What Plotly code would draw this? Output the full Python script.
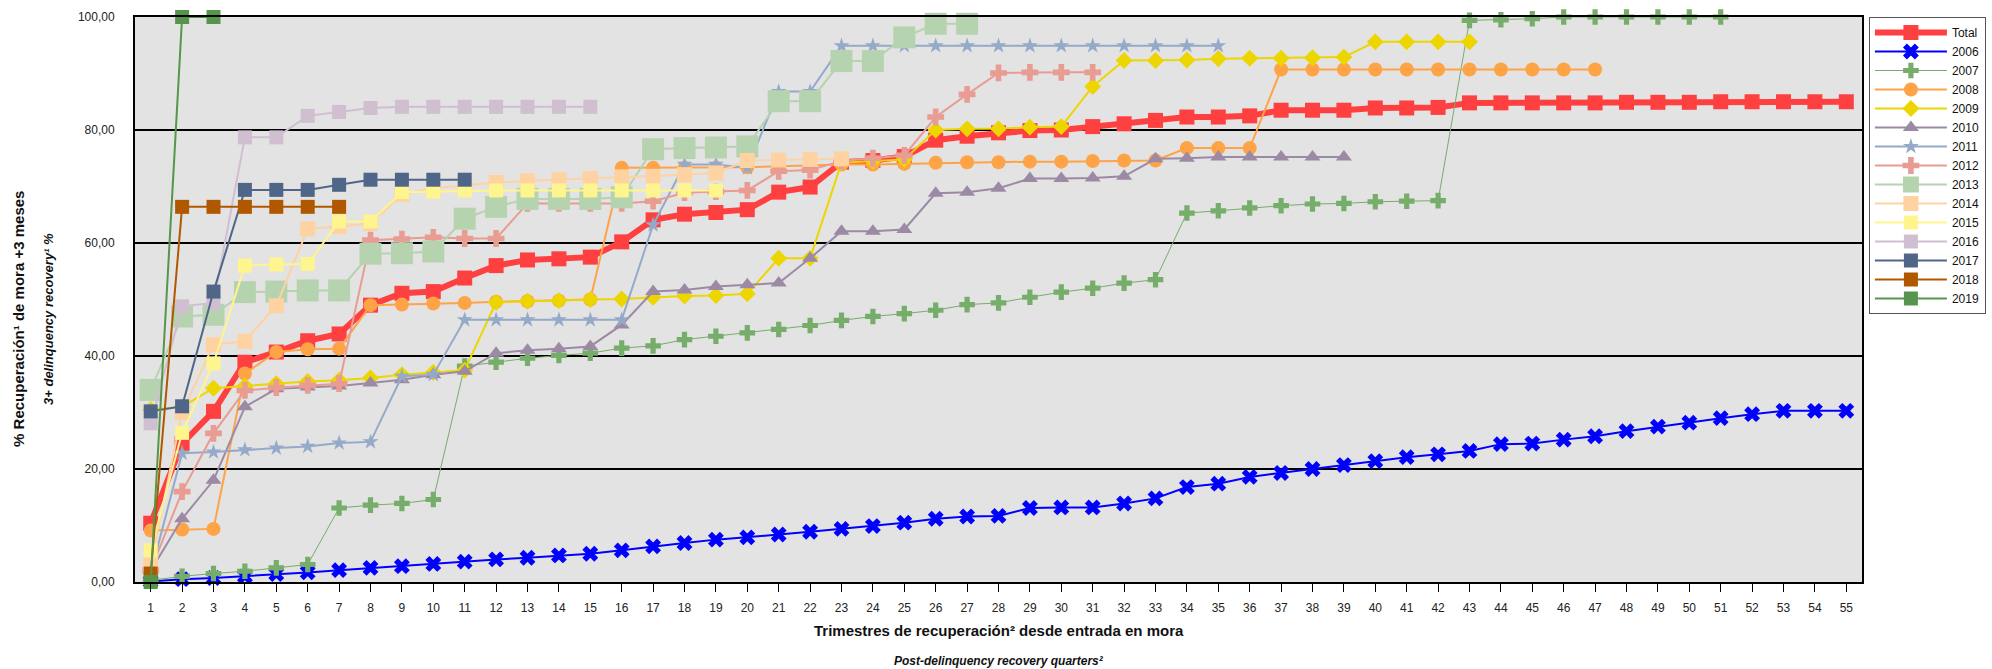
import plotly.graph_objects as go

quarters = list(range(1, 56))

total = [10.4, 24.5, 30.2, 38.9, 40.7, 42.7, 43.9, 49.0, 51.1, 51.4,
         53.8, 56.0, 57.0, 57.2, 57.5, 60.2, 64.1, 65.1, 65.4, 65.9,
         69.0, 69.9, 74.3, 74.6, 75.3, 78.2, 78.9, 79.5, 79.9, 80.0,
         80.6, 81.1, 81.7, 82.3, 82.3, 82.5, 83.5, 83.5, 83.5, 83.9,
         83.9, 84.0, 84.8, 84.8, 84.8, 84.8, 84.8, 84.9, 84.9, 84.9,
         85.0, 85.0, 85.0, 85.0, 85.0]
s2006 = [0.1, 0.5, 0.7, 1.0, 1.4, 1.7, 2.1, 2.5, 2.8, 3.2,
         3.6, 4.0, 4.3, 4.7, 5.0, 5.6, 6.3, 6.9, 7.5, 7.9,
         8.4, 8.9, 9.4, 9.9, 10.5, 11.2, 11.6, 11.7, 13.1, 13.2,
         13.2, 13.9, 14.8, 16.8, 17.4, 18.6, 19.3, 20.0, 20.7, 21.4,
         22.1, 22.6, 23.2, 24.4, 24.5, 25.2, 25.8, 26.7, 27.5, 28.2,
         29.0, 29.7, 30.3, 30.3, 30.3]
s2007 = [0.3, 1.0, 1.5, 1.9, 2.5, 3.1, 13.1, 13.6, 13.9, 14.6,
         38.2, 38.9, 39.6, 40.1, 40.5, 41.4, 41.8, 42.9, 43.5, 44.1,
         44.7, 45.4, 46.3, 47.0, 47.5, 48.1, 49.1, 49.4, 50.4, 51.3,
         52.0, 52.9, 53.5, 65.3, 65.7, 66.2, 66.6, 66.9, 67.0, 67.3,
         67.4, 67.5, 99.4, 99.5, 99.7, 100.0, 100.0, 100.0, 100.0, 100.0,
         100.0]
s2008 = [9.1, 9.3, 9.4, 36.9, 40.7, 41.2, 41.3, 49.0, 49.1, 49.3,
         49.4, 49.6, 49.7, 49.8, 50.0, 73.3, 73.3, 73.3, 73.3, 73.4,
         73.6, 73.8, 73.9, 73.9, 74.0, 74.2, 74.3, 74.3, 74.4, 74.4,
         74.5, 74.6, 74.6, 76.8, 76.8, 76.8, 90.7, 90.7, 90.7, 90.7,
         90.7, 90.7, 90.7, 90.7, 90.7, 90.7, 90.7]
s2009 = [30.5, 31.0, 34.3, 34.7, 35.1, 35.5, 35.7, 36.1, 36.7, 37.1,
         37.5, 49.5, 49.7, 49.8, 50.0, 50.1, 50.4, 50.6, 50.7, 51.0,
         57.3, 57.3, 74.2, 74.5, 74.8, 80.0, 80.2, 80.2, 80.5, 80.6,
         87.7, 92.3, 92.3, 92.4, 92.6, 92.7, 92.7, 92.8, 92.9, 95.6,
         95.6, 95.6, 95.6]
s2010 = [2.0, 11.2, 18.0, 31.0, 34.2, 34.5, 34.7, 35.2, 35.8, 36.7,
         37.3, 40.5, 41.0, 41.3, 41.7, 45.5, 51.4, 51.7, 52.3, 52.6,
         52.9, 57.3, 62.1, 62.1, 62.4, 68.8, 69.0, 69.7, 71.4, 71.4,
         71.5, 71.8, 74.9, 75.0, 75.2, 75.2, 75.2, 75.2, 75.2]
s2011 = [1.5, 22.8, 23.0, 23.4, 23.7, 24.0, 24.6, 24.8, 36.4, 36.7,
         46.4, 46.4, 46.4, 46.4, 46.4, 46.4, 63.2, 73.9, 73.9, 73.3,
         86.8, 86.8, 94.9, 94.9, 94.9, 94.9, 94.9, 94.9, 94.9, 94.9,
         94.9, 94.9, 94.9, 94.9, 94.9]
s2012 = [2.1, 16.0, 26.3, 33.9, 34.4, 34.8, 35.1, 60.5, 60.7, 61.0,
         60.8, 60.8, 67.0, 67.0, 67.0, 67.0, 67.4, 68.9, 69.1, 69.3,
         72.7, 72.9, 74.5, 75.0, 75.5, 82.3, 86.3, 90.1, 90.2, 90.2,
         90.2]
s2013 = [34.0, 47.0, 47.3, 51.3, 51.4, 51.6, 51.6, 58.1, 58.2, 58.5,
         64.3, 66.4, 67.8, 67.8, 67.8, 68.1, 76.6, 76.8, 76.9, 77.1,
         85.1, 85.1, 92.2, 92.2, 96.4, 98.8, 98.8]
s2014 = [3.2, 30.0, 42.0, 42.6, 48.9, 62.5, 62.9, 63.5, 68.6, 69.7,
         70.2, 70.7, 71.0, 71.2, 71.4, 71.7, 71.8, 72.1, 72.4, 74.6,
         74.7, 74.8, 74.9]
s2015 = [5.6, 26.4, 38.7, 56.0, 56.2, 56.3, 63.8, 63.8, 69.0, 69.1,
         69.3, 69.3, 69.3, 69.3, 69.3, 69.3, 69.3, 69.3, 69.3]
s2016 = [28.1, 48.8, 49.4, 78.7, 78.7, 82.5, 83.2, 83.9, 84.1, 84.1,
         84.1, 84.1, 84.1, 84.1, 84.1]
s2017 = [30.2, 31.1, 51.4, 69.4, 69.4, 69.4, 70.3, 71.2, 71.2, 71.2, 71.2]
s2018 = [1.5, 66.4, 66.4, 66.4, 66.4, 66.4, 66.4]
s2019 = [0.0, 100.0, 100.0]

series_names = ["Total", "2006", "2007", "2008", "2009", "2010", "2011", "2012",
                "2013", "2014", "2015", "2016", "2017", "2018", "2019"]
series_values = [total, s2006, s2007, s2008, s2009, s2010, s2011, s2012,
                 s2013, s2014, s2015, s2016, s2017, s2018, s2019]

colors = ["#FF4040", "#0000FF", "#77AD6A", "#FFA347", "#EDD500", "#9C8AA5",
          "#94AAC8", "#E89C92", "#B6D3AF", "#FFD2A2", "#FFF58F", "#D0BFD1",
          "#506689", "#B05800", "#56964C"]
symbols = ["square", "x", "cross", "circle", "diamond", "triangle-up", "star",
           "cross", "square", "square", "square", "square", "square", "square", "square"]
msizes = [15, 14, 13, 14, 13, 14, 12, 14, 22, 15, 14, 14, 14, 14, 14]
lwidths = [6, 2, 1, 2, 2, 2, 2, 2, 2, 2, 2, 2, 2, 2, 2]

y_ticks = [0, 20, 40, 60, 80, 100]

fig = go.Figure()
for name, vals, col, sym, ms, lw in zip(series_names, series_values, colors,
                                         symbols, msizes, lwidths):
    fig.add_trace(go.Scatter(
        x=quarters[:len(vals)], y=vals, name=name, mode="lines+markers",
        line=dict(color=col, width=lw),
        marker=dict(symbol=sym, size=ms, color=col, line=dict(width=0)),
        cliponaxis=False,
    ))

base_font = "Liberation Sans, Arial, sans-serif"
narrow_font = "Liberation Sans Narrow, Arial Narrow, Liberation Sans, Arial, sans-serif"

fig.update_layout(
    width=1992, height=669,
    margin=dict(l=135, r=130, t=17, b=87, autoexpand=False),
    paper_bgcolor="white",
    plot_bgcolor="#E3E3E3",
    separators=", ",
    font=dict(family=base_font, color="#222222", size=12),
    showlegend=True,
    legend=dict(
        x=1.004, y=1.0, xanchor="left", yanchor="top",
        bgcolor="white", bordercolor="#555555", borderwidth=1,
        font=dict(family=base_font, size=12, color="#111111"),
        tracegroupgap=0, itemwidth=72,
    ),
    xaxis=dict(
        range=[0.5, 55.5], tickmode="linear", tick0=1, dtick=1,
        ticks="outside", ticklen=8, tickcolor="black", tickwidth=1,
        showgrid=False, zeroline=False,
        showline=True, linecolor="black", linewidth=2, mirror=True,
        tickfont=dict(family=narrow_font, size=12, color="#222222"),
        ticklabelstandoff=6,
    ),
    yaxis=dict(
        range=[0, 100], tickvals=y_ticks, tickformat=".2f",
        ticks="", showgrid=True, gridcolor="black", gridwidth=1.5,
        zeroline=False,
        showline=True, linecolor="black", linewidth=2, mirror=True,
        tickfont=dict(family=base_font, size=12, color="#222222"),
        ticklabelstandoff=16,
    ),
    annotations=[
        dict(text="<b>% Recuperación¹ de mora +3 meses</b>",
             xref="paper", yref="paper", x=-0.0672, y=0.4655,
             xanchor="center", yanchor="middle", textangle=-90, showarrow=False,
             font=dict(family=base_font, size=15, color="#111111")),
        dict(text="<b><i>3+ delinquency recovery¹ %</i></b>",
             xref="paper", yref="paper", x=-0.0498, y=0.4655,
             xanchor="center", yanchor="middle", textangle=-90, showarrow=False,
             font=dict(family=base_font, size=13, color="#111111")),
        dict(text="<b>Trimestres de recuperación² desde entrada en mora</b>",
             xref="paper", yref="paper", x=0.5, y=-0.0867,
             xanchor="center", yanchor="middle", showarrow=False,
             font=dict(family=base_font, size=15, color="#111111")),
        dict(text="<b><i>Post-delinquency recovery quarters²</i></b>",
             xref="paper", yref="paper", x=0.5, y=-0.14,
             xanchor="center", yanchor="middle", showarrow=False,
             font=dict(family=base_font, size=12, color="#111111")),
    ],
)

fig.write_html(
    "out.html",
    config={"displayModeBar": False},
    post_script="document.body.style.margin='0px';document.body.style.overflow='hidden';",
)
